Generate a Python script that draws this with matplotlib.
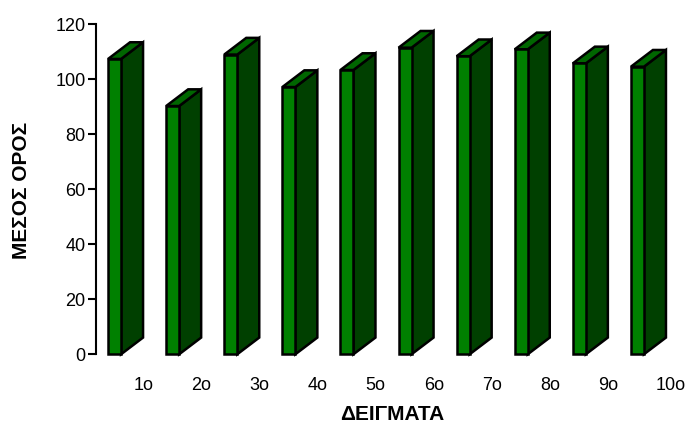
import matplotlib
matplotlib.use("Agg")
import matplotlib.pyplot as plt
from matplotlib.patches import Polygon

plt.rcParams['font.family'] = ['Liberation Sans', 'DejaVu Sans']

# Sample means
categories = ['1ο', '2ο', '3ο', '4ο', '5ο', '6ο', '7ο', '8ο', '9ο', '10ο']
means = [107.3, 90.2, 108.9, 97.1, 103.3, 111.4, 108.3, 110.8, 105.7, 104.5]
y_ticks = [0, 20, 40, 60, 80, 100, 120]

FRONT = '#008000'
TOP = '#006600'
SIDE = '#004000'

fig = plt.figure(figsize=(6.91, 4.25), dpi=100)
ax = fig.add_axes([96 / 691, 0.1664, 595 / 691, 0.7771])

ax.set_xlim(-0.5, -0.5 + 595 / 58.1)
ax.set_ylim(0, 120)

# Bar geometry (category units / value units)
front_off = -0.2926   # left edge of front face relative to category centre
front_w = 0.2238      # width of front face
depth_x = 0.3787      # oblique depth, horizontal
depth_y = 6.07        # oblique depth, vertical
lw = 1.8

for i, v in enumerate(means):
    x0 = i + front_off
    x1 = x0 + front_w
    side = Polygon([(x1, 0), (x1 + depth_x, depth_y), (x1 + depth_x, v + depth_y), (x1, v)],
                   closed=True, facecolor=SIDE, edgecolor='black', linewidth=lw,
                   joinstyle='miter', clip_on=False)
    top = Polygon([(x0, v), (x1, v), (x1 + depth_x, v + depth_y), (x0 + depth_x, v + depth_y)],
                  closed=True, facecolor=TOP, edgecolor='black', linewidth=lw,
                  joinstyle='miter', clip_on=False)
    front = Polygon([(x0, 0), (x1, 0), (x1, v), (x0, v)],
                    closed=True, facecolor=FRONT, edgecolor='black', linewidth=lw,
                    joinstyle='miter', clip_on=False)
    for p in (side, top, front):
        ax.add_patch(p)

# Category labels below the bars
for i, lab in enumerate(categories):
    ax.text(i + 0.14, -11.3, lab, ha='left', va='center', fontsize=13)

ax.set_xticks([])
ax.set_yticks(y_ticks)
ax.tick_params(axis='y', length=6, width=1.5, pad=1.5, labelsize=13)
for s in ('top', 'right', 'bottom'):
    ax.spines[s].set_visible(False)
ax.spines['left'].set_linewidth(1.5)

fig.text(392 / 691, 1 - 414 / 425, 'ΔΕΙΓΜΑΤΑ', ha='center', va='center',
         fontsize=15, fontweight='bold')
fig.text(22 / 691, 1 - 190 / 425, 'ΜΕΣΟΣ ΟΡΟΣ', ha='center', va='center',
         fontsize=15, fontweight='bold', rotation=90)

fig.savefig('out.png', dpi=100)
